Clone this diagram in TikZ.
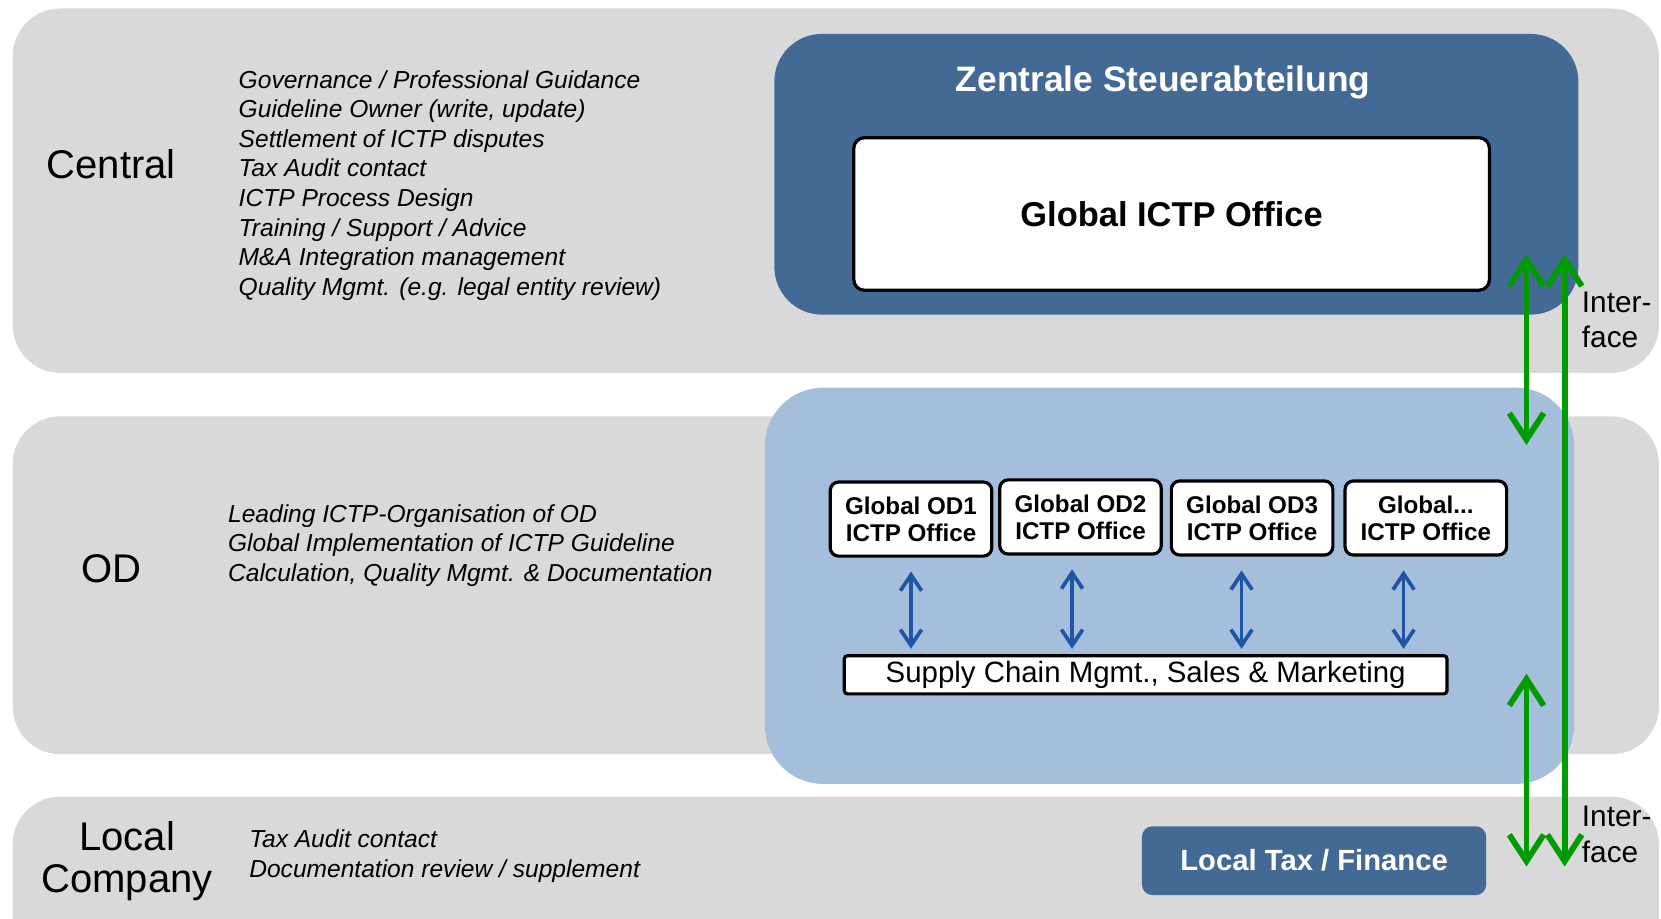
\documentclass[tikz,border=0pt]{standalone}
\usepackage{fontspec}
\setmainfont{Liberation Sans}
\usepackage{tikz}
\usetikzlibrary{arrows.meta}
\definecolor{bandgray}{RGB}{217,217,217}
\definecolor{darkblue}{RGB}{67,106,148}
\definecolor{lightblue}{RGB}{165,190,220}
\definecolor{ifgreen}{RGB}{0,155,0}
\definecolor{arrowblue}{RGB}{30,85,165}

\begin{document}
\begin{tikzpicture}[x=0.2mm, y=-0.2mm, % 1 unit = 1 px of the sketch, y downwards
    band/.style={fill=bandgray, rounded corners=9mm},
    level/.style={font=\fontsize{21.5}{22.7}\selectfont, align=center},
    tasks/.style={anchor=west, align=left, inner sep=0pt, font=\itshape\fontsize{13.2}{15.9}\selectfont},
    officebox/.style={draw=black, line width=0.6mm, fill=white, rounded corners=1.6mm, align=center,
        minimum width=30.5mm, minimum height=14mm, inner sep=0pt, font=\bfseries\fontsize{13}{14.5}\selectfont},
    iface/.style={anchor=west, align=left, inner sep=0pt, font=\fontsize{16}{19.3}\selectfont},
    greenarrow/.style={draw=ifgreen, line width=1.1mm, >={Straight Barb[length=5mm,width=6.5mm]}, <->},
    bluearrow/.style={draw=arrowblue, line width=0.7mm, >={Straight Barb[length=3mm,width=4mm]}, <->,
        shorten <=2.6mm, shorten >=1mm}]
    \useasboundingbox (0,0) rectangle (1568,867); % image frame
    \clip (0,0) rectangle (1568,867);

    % grey bands
    \fill[band] (12,8) rectangle (1566,352);   % Central
    \fill[band] (12,393) rectangle (1566,712); % OD
    \fill[band] (12,752) rectangle (1566,920); % Local Company

    % Central
    \node[level] (central) at (105,155) {Central};
    \node[tasks] (centraltasks) at (225,175) {Governance / Professional Guidance\\
        Guideline Owner (write, update)\\ Settlement of ICTP disputes\\ Tax Audit contact\\
        ICTP Process Design\\ Training / Support / Advice\\ M\&A Integration management\\
        Quality Mgmt. (e.g. legal entity review)};
    \fill[darkblue, rounded corners=9mm] (731,32) rectangle (1490,297);
    \node[text=white, font=\bfseries\fontsize{19}{22}\selectfont] (zst) at (1098,78) {Zentrale Steuerabteilung};
    \node[officebox, minimum width=120mm, minimum height=28.8mm, rounded corners=2mm,
        font=\bfseries\fontsize{18.5}{22}\selectfont] (gio) at (1106,202) {Global ICTP Office};

    % OD
    \fill[lightblue, rounded corners=11mm] (722,366) rectangle (1486,740);
    \node[level] (od) at (105,537) {OD};
    \node[tasks] (odtasks) at (215,515) {Leading ICTP-Organisation of OD\\
        Global Implementation of ICTP Guideline\\ Calculation, Quality Mgmt. \& Documentation};
    \node[officebox] (od1) at (860,490) {Global OD1\\ICTP Office};
    \node[officebox] (od2) at (1020,488) {Global OD2\\ICTP Office};
    \node[officebox] (od3) at (1182,489) {Global OD3\\ICTP Office};
    \node[officebox] (od4) at (1346,489) {Global...\\ICTP Office};
    \node[officebox, minimum width=113.8mm, minimum height=7.2mm, rounded corners=0.6mm,
        font=\fontsize{15.8}{18}\selectfont] (scm) at (1081.5,637) {Supply Chain Mgmt., Sales \& Marketing};
    \foreach \b/\s in {od1/0mm, od2/-1.6mm, od3/-2mm, od4/-4.2mm}
        \draw[bluearrow] ([xshift=\s]\b.south) -- ([xshift=\s]\b.south |- scm.north);

    % Local Company
    \node[level] (local) at (120,813) {Local\\Company};
    \node[tasks] (localtasks) at (235,808) {Tax Audit contact\\ Documentation review / supplement};
    \node[fill=darkblue, rounded corners=2mm, minimum width=65mm, minimum height=13mm, text=white,
        font=\bfseries\fontsize{15.7}{18}\selectfont] (ltf) at (1240.5,812.5) {Local Tax / Finance};

    % interfaces
    \coordinate (ifLa) at (1441,240); \coordinate (ifLb) at (1441,420);
    \coordinate (ifLc) at (1441,636); \coordinate (ifLd) at (1441,818);
    \coordinate (ifRa) at (1477,240); \coordinate (ifRb) at (1477,818);
    \draw[greenarrow] (ifLa) -- (ifLb);
    \draw[greenarrow] (ifLc) -- (ifLd);
    \draw[greenarrow] (ifRa) -- (ifRb);
    \node[iface] (iftop) at (1493,302) {Inter-\\face};
    \node[iface] (ifbot) at (1493,788) {Inter-\\face};
\end{tikzpicture}
\end{document}
